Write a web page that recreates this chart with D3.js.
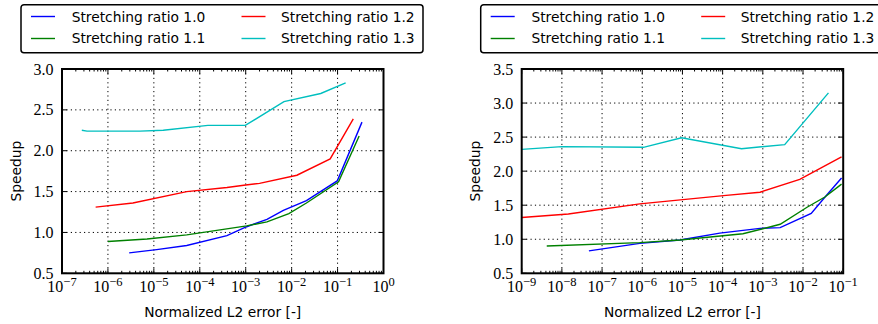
<!DOCTYPE html>
<html>
<head>
<meta charset="utf-8">
<script src="https://cdn.jsdelivr.net/npm/d3@7"></script>
<style>
  body { margin: 0; background: #fff; }
  svg { display: block; }
</style>
</head>
<body>
<svg id="chart" width="878" height="324"></svg>
<script>
const NAMES = ['Stretching ratio 1.0', 'Stretching ratio 1.1', 'Stretching ratio 1.2', 'Stretching ratio 1.3']
const COLORS = ['#0000ff', '#008000', '#ff0000', '#00bfbf']

// left panel
const L_ERR_10 = [2.9e-6, 1.15e-5, 5.2e-5, 3.9e-4, 1.05e-3, 2.9e-3, 6.6e-3, 2.1e-2, 9.8e-2, 1.15e-1, 3.4e-1]
const L_SPD_10 = [0.75, 0.79, 0.84, 0.96, 1.07, 1.16, 1.27, 1.39, 1.63, 1.72, 2.35]
const L_ERR_11 = [1.0e-6, 7.1e-6, 5.2e-5, 1.05e-3, 2.9e-3, 8.7e-3, 2.1e-2, 1.05e-1, 2.95e-1]
const L_SPD_11 = [0.89, 0.92, 0.97, 1.08, 1.13, 1.23, 1.36, 1.62, 2.18]
const L_ERR_12 = [5.4e-7, 3.5e-6, 5.2e-5, 3.9e-4, 1.0e-3, 2.0e-3, 1.3e-2, 6.9e-2, 2.2e-1]
const L_SPD_12 = [1.31, 1.36, 1.50, 1.55, 1.58, 1.60, 1.70, 1.90, 2.39]
const L_ERR_13 = [2.7e-7, 3.5e-7, 5.0e-6, 1.6e-5, 1.5e-4, 9.8e-4, 6.8e-3, 4.3e-2, 1.5e-1]
const L_SPD_13 = [2.25, 2.24, 2.24, 2.25, 2.31, 2.31, 2.60, 2.70, 2.83]

// right panel
const R_ERR_10 = [4.7e-8, 8.7e-7, 8.7e-6, 8.5e-5, 8.5e-4, 2.7e-3, 1.6e-2, 3.9e-2, 9.1e-2]
const R_SPD_10 = [0.83, 0.94, 0.99, 1.09, 1.16, 1.17, 1.38, 1.65, 1.90]
const R_ERR_11 = [4.2e-9, 8.7e-7, 8.7e-6, 3.2e-4, 2.7e-3, 1.26e-2, 3.5e-2, 9.1e-2]
const R_SPD_11 = [0.90, 0.95, 0.99, 1.08, 1.22, 1.47, 1.62, 1.81]
const R_ERR_12 = [1.0e-9, 1.45e-8, 8.7e-7, 1.05e-4, 8.5e-4, 8.3e-3, 9.1e-2]
const R_SPD_12 = [1.32, 1.37, 1.52, 1.64, 1.69, 1.88, 2.21]
const R_ERR_13 = [1.0e-9, 1.0e-8, 1.07e-6, 9.5e-6, 2.95e-4, 3.5e-3, 4.3e-2]
const R_SPD_13 = [2.32, 2.36, 2.35, 2.49, 2.33, 2.39, 3.15]

const L_X_EXP = [-7, -6, -5, -4, -3, -2, -1, 0]
const L_Y_TICKS = [0.5, 1.0, 1.5, 2.0, 2.5, 3.0]
const R_X_EXP = [-9, -8, -7, -6, -5, -4, -3, -2, -1]
const R_Y_TICKS = [0.5, 1.0, 1.5, 2.0, 2.5, 3.0, 3.5]

const zip = (xs, ys) => xs.map((x, i) => [x, ys[i]])

const svg = d3.select('#chart')
const sans = 'DejaVu Sans, sans-serif'
const serif = "'Liberation Serif', 'Times New Roman', serif"

const drawPanel = (ox, id, xExp, yTicks, series) => {
  const left = ox + 62, right = ox + 383.5, top = 69, bottom = 273.3
  const x = d3.scaleLog().domain([10 ** xExp[0], 10 ** xExp[xExp.length - 1]]).range([left, right])
  const y = d3.scaleLinear().domain([yTicks[0], yTicks[yTicks.length - 1]]).range([bottom, top])
  const g = svg.append('g')

  svg.append('clipPath').attr('id', `clip-${id}`)
    .append('rect').attr('x', left).attr('y', top).attr('width', right - left).attr('height', bottom - top)

  // grid
  const xMajor = xExp.map(e => 10 ** e)
  g.selectAll('.gx').data(xMajor.slice(1, -1)).join('line')
    .attr('x1', d => x(d)).attr('x2', d => x(d)).attr('y1', top).attr('y2', bottom)
    .attr('stroke', '#000').attr('stroke-width', 1).attr('stroke-dasharray', '1.2,3.2')
  g.selectAll('.gy').data(yTicks.slice(1, -1)).join('line')
    .attr('x1', left).attr('x2', right).attr('y1', d => y(d)).attr('y2', d => y(d))
    .attr('stroke', '#000').attr('stroke-width', 1).attr('stroke-dasharray', '1.2,3.2')

  // lines
  const line = d3.line().x(d => x(d[0])).y(d => y(d[1]))
  g.append('g').attr('clip-path', `url(#clip-${id})`)
    .selectAll('path').data(series).join('path')
    .attr('d', d => line(d.pts))
    .attr('fill', 'none').attr('stroke', d => d.color).attr('stroke-width', 1.4)

  // ticks, pointing inwards on all sides
  const minor = []
  for (let i = 0; i < xExp.length - 1; i++) {
    for (let k = 2; k <= 9; k++) minor.push(k * 10 ** xExp[i])
  }
  const ticks = g.append('g').attr('stroke', '#000').attr('stroke-width', 1)
  xMajor.forEach(v => {
    ticks.append('line').attr('x1', x(v)).attr('x2', x(v)).attr('y1', bottom).attr('y2', bottom - 5)
    ticks.append('line').attr('x1', x(v)).attr('x2', x(v)).attr('y1', top).attr('y2', top + 5)
  })
  minor.forEach(v => {
    ticks.append('line').attr('x1', x(v)).attr('x2', x(v)).attr('y1', bottom).attr('y2', bottom - 2.5)
    ticks.append('line').attr('x1', x(v)).attr('x2', x(v)).attr('y1', top).attr('y2', top + 2.5)
  })
  yTicks.forEach(v => {
    ticks.append('line').attr('x1', left).attr('x2', left + 5).attr('y1', y(v)).attr('y2', y(v))
    ticks.append('line').attr('x1', right).attr('x2', right - 5).attr('y1', y(v)).attr('y2', y(v))
  })

  // frame
  g.append('rect').attr('x', left).attr('y', top).attr('width', right - left).attr('height', bottom - top)
    .attr('fill', 'none').attr('stroke', '#000').attr('stroke-width', 2)

  // tick labels
  g.selectAll('.yl').data(yTicks).join('text')
    .attr('x', left - 8.5).attr('y', d => y(d)).attr('dy', '0.35em')
    .attr('text-anchor', 'end').attr('font-family', serif).attr('font-size', 16)
    .text(d => d.toFixed(1))
  const xl = g.selectAll('.xl').data(xExp).join('text')
    .attr('x', d => x(10 ** d)).attr('y', 292)
    .attr('text-anchor', 'middle').attr('font-family', serif).attr('font-size', 16)
  xl.append('tspan').text('10')
  xl.append('tspan').attr('dy', -6.5).attr('font-size', 12.5).text(d => d === 0 ? '0' : '\u2212' + Math.abs(d))

  // axis labels
  g.append('text').attr('x', (left + right) / 2).attr('y', 317.3)
    .attr('text-anchor', 'middle').attr('font-family', sans).attr('font-size', 13.8)
    .text('Normalized L2 error [-]')
  g.append('text').attr('transform', `translate(${ox + 20.7},${(top + bottom) / 2}) rotate(-90)`)
    .attr('text-anchor', 'middle').attr('font-family', sans).attr('font-size', 13.8)
    .text('Speedup')

  // legend
  const lg = g.append('g')
  lg.append('rect').attr('x', ox + 21).attr('y', 4.7).attr('width', 402).attr('height', 48).attr('rx', 3)
    .attr('fill', '#fff').attr('stroke', '#000').attr('stroke-width', 1.5)
  series.forEach((s, i) => {
    const col = Math.floor(i / 2), row = i % 2
    const hx = ox + (col ? 241.5 : 31), tx = ox + (col ? 281 : 71.7)
    const ly = row ? 38.5 : 16.5
    lg.append('line').attr('x1', hx).attr('x2', hx + 24).attr('y1', ly).attr('y2', ly)
      .attr('stroke', s.color).attr('stroke-width', 1.4)
    lg.append('text').attr('x', tx).attr('y', row ? 43.3 : 21.7)
      .attr('font-family', sans).attr('font-size', 13.8).text(s.name)
  })
}

const leftSeries = [
  zip(L_ERR_10, L_SPD_10), zip(L_ERR_11, L_SPD_11), zip(L_ERR_12, L_SPD_12), zip(L_ERR_13, L_SPD_13)
].map((pts, i) => ({ name: NAMES[i], color: COLORS[i], pts }))
const rightSeries = [
  zip(R_ERR_10, R_SPD_10), zip(R_ERR_11, R_SPD_11), zip(R_ERR_12, R_SPD_12), zip(R_ERR_13, R_SPD_13)
].map((pts, i) => ({ name: NAMES[i], color: COLORS[i], pts }))

drawPanel(0, 'a', L_X_EXP, L_Y_TICKS, leftSeries)
drawPanel(459.7, 'b', R_X_EXP, R_Y_TICKS, rightSeries)
</script>
</body>
</html>
